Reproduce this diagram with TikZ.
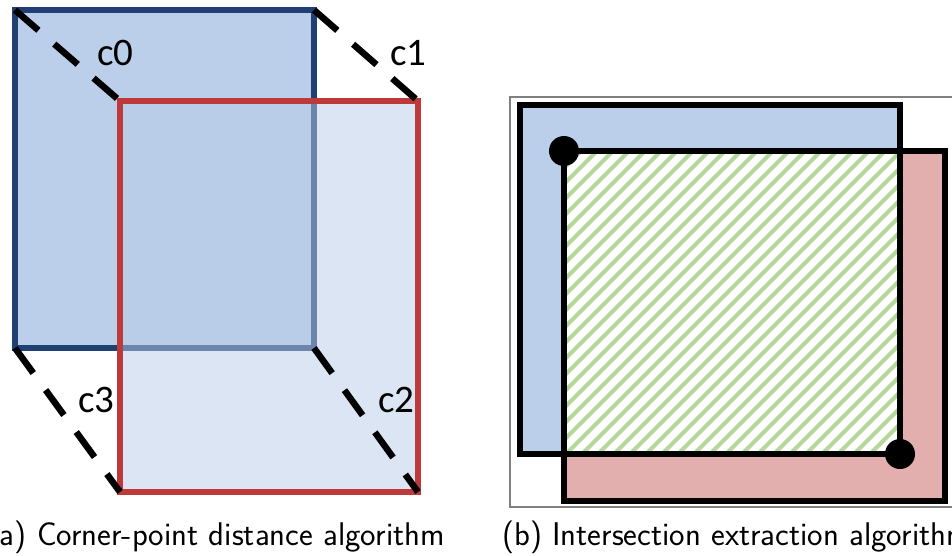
\documentclass[tikz,border=0pt]{standalone}
\usepackage{fontspec}
\newfontfamily\labfont{Carlito}
\definecolor{navy}{HTML}{203F73}
\definecolor{redb}{HTML}{BE3A3A}
\definecolor{bluefill}{HTML}{BCCFEA}
\definecolor{overfill}{HTML}{B8CCE8}
\definecolor{pinkfill}{HTML}{E3AEAE}
\definecolor{hatch}{HTML}{B5D89A}
\tikzset{
  dashline/.style={line width=6.5pt, dash pattern=on 31pt off 21pt},
  blk/.style={draw=black, line width=6.5pt},
  lab/.style={font=\labfont\fontsize{39}{45}\selectfont, inner sep=0pt},
  captext/.style={font=\sffamily\fontsize{32.8}{38}\selectfont, inner sep=0pt},
}
\begin{document}
\begin{tikzpicture}[x=1pt,y=-1pt]
\useasboundingbox (0,0) rectangle (952,555);
\clip (0,0) rectangle (952,555);
% ---- left panel
\coordinate (b0) at (15,10);  \coordinate (b1) at (314,10);
\coordinate (b2) at (314,348); \coordinate (b3) at (15,348);
\coordinate (r0) at (120,101); \coordinate (r1) at (418,101);
\coordinate (r2) at (418,492); \coordinate (r3) at (120,492);
\fill[bluefill] (b0) rectangle (b2);
\draw[navy, line width=6.5pt, line join=miter] (b0) rectangle (b2);
\fill[overfill, opacity=0.5] (r0) rectangle (r2);
\draw[redb, line width=6.5pt] (r0) rectangle (r2);
\draw[dashline] (b0) -- (r0);
\draw[dashline] (b1) -- (r1);
\draw[dashline] (b2) -- (r2);
\draw[dashline] (b3) -- (r3);
\node[lab, anchor=base west] (l0) at (97,65) {c0};
\node[lab, anchor=base west] (l1) at (390,65) {c1};
\node[lab, anchor=base west] (l3) at (78,412) {c3};
\node[lab, anchor=base west] (l2) at (378,412) {c2};
% ---- right panel
\draw[gray, line width=1.3pt] (953,97) -- (510,97) -- (510,507) -- (953,507);
\coordinate (B0) at (520,105); \coordinate (B2) at (900,454);
\coordinate (R0) at (564,151); \coordinate (R2) at (945,501);
\fill[bluefill] (B0) rectangle (B2);
\fill[pinkfill] (R0) rectangle (R2);
\fill[white] (R0) rectangle (B2);
\begin{scope}
  \clip (R0) rectangle (B2);
  \foreach \x in {240,256,...,920} {
    \draw[hatch, line width=4pt] (\x,460) -- (\x+315,145);
  }
\end{scope}
\draw[blk] (B0) rectangle (B2);
\draw[blk] (R0) rectangle (R2);
\fill[black] (R0) circle (15pt);
\fill[black] (B2) circle (15pt);
% ---- captions
\node[captext, anchor=base east] (ca) at (445,545) {(a) Corner-point distance algorithm};
\node[captext, anchor=base west] (cb) at (502,545) {(b) Intersection extraction algorithm};
\end{tikzpicture}
\end{document}
